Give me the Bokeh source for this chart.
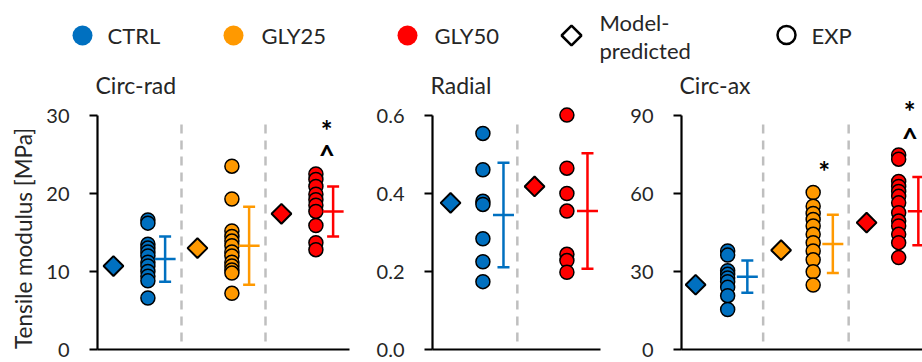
import numpy as np
from bokeh.plotting import figure
from bokeh.layouts import column, row
from bokeh.models import Range1d, FixedTicker, NumeralTickFormatter
from bokeh.core.properties import value
from bokeh.embed import file_html
from bokeh.resources import INLINE

FONT = "Lato"
TXT = "#262626"
COLORS = {"CTRL": "#0070C0", "GLY25": "#FF9900", "GLY50": "#FF0000"}

# ---------------- data ----------------
# Circ-rad
cr_groups = ["CTRL", "GLY25", "GLY50"]
cr_ctrl = [16.6, 16.2, 13.5, 13.0, 12.5, 12.0, 11.2, 10.7, 10.0, 9.4, 8.8, 6.6]
cr_gly25 = [23.5, 19.3, 15.2, 14.5, 13.9, 13.3, 12.5, 12.0, 11.2, 10.7, 10.2, 9.8, 7.2]
cr_gly50 = [22.5, 21.8, 20.9, 19.9, 19.2, 18.5, 17.7, 15.9, 13.7, 12.8]
cr_model = [10.7, 13.0, 17.4]
cr_mean = [11.6, 13.3, 17.7]
cr_sd = [2.9, 5.0, 3.2]
cr_ticks = [0, 10, 20, 30]
cr_sig = [("GLY50", "*", 28.2), ("GLY50", "^", 25.0)]

# Radial
ra_groups = ["CTRL", "GLY50"]
ra_ctrl = [0.554, 0.461, 0.380, 0.372, 0.284, 0.225, 0.174]
ra_gly50 = [0.601, 0.465, 0.400, 0.355, 0.244, 0.228, 0.198]
ra_model = [0.376, 0.418]
ra_mean = [0.345, 0.355]
ra_sd = [0.134, 0.148]
ra_ticks = [0.0, 0.2, 0.4, 0.6]
ra_sig = []

# Circ-ax
ca_groups = ["CTRL", "GLY25", "GLY50"]
ca_ctrl = [37.9, 36.3, 30.3, 28.9, 27.5, 26.1, 23.9, 20.7, 15.4]
ca_gly25 = [60.4, 55.1, 52.3, 50.0, 47.5, 44.3, 41.1, 37.9, 34.5, 29.9, 24.8]
ca_gly50 = [74.8, 73.2, 64.6, 62.7, 60.8, 58.9, 56.4, 52.6, 49.4, 47.5, 44.3, 41.1, 35.4]
ca_model = [24.9, 38.2, 48.8]
ca_mean = [28.0, 40.6, 53.2]
ca_sd = [6.2, 11.2, 13.1]
ca_ticks = [0, 30, 60, 90]
ca_sig = [("GLY25", "*", 68.8), ("GLY50", "*", 91.9), ("GLY50", "^", 81.2)]

legend_labels = ["CTRL", "GLY25", "GLY50", "Model-", "predicted", "EXP"]
y_label = "Tensile modulus [MPa]"

# ---------------- layout constants ----------------
LEG_H = 66
ROW_H = 296
TOP_B = 32
BOT_B = 13
FRAME_H = ROW_H - TOP_B - BOT_B
AXIS_H = 234  # pixels from 0 to top tick


def make_panel(title, groups, exp, model, mean, sd, ticks, sig, width, bl, br,
               x0, x1, offs, fmt=None):
    diam_off, err_off, sep_off = offs
    top = ticks[-1] * FRAME_H / AXIS_H
    p = figure(width=width, height=ROW_H, x_range=Range1d(x0, x1),
               y_range=Range1d(0, top), output_backend="svg",
               toolbar_location=None, min_border_left=bl, min_border_right=br,
               min_border_top=TOP_B, min_border_bottom=BOT_B, title=title)
    p.outline_line_color = None
    p.grid.visible = False

    p.title.text_font = FONT
    p.title.text_font_size = "23px"
    p.title.text_font_style = "normal"
    p.title.text_color = TXT
    p.title.align = "left"
    p.title.standoff = 0
    p.title.offset = -2

    ya = p.yaxis[0]
    ya.ticker = FixedTicker(ticks=ticks)
    ya.bounds = (0, ticks[-1])
    ya.axis_line_width = 2.2
    ya.axis_line_color = "black"
    ya.major_tick_line_width = 2.2
    ya.major_tick_line_color = "black"
    ya.major_tick_out = 8
    ya.major_tick_in = 0
    ya.minor_tick_line_color = None
    ya.major_label_standoff = 20
    ya.major_label_text_font = FONT
    ya.major_label_text_font_size = "20px"
    ya.major_label_text_color = TXT
    if fmt:
        ya.formatter = NumeralTickFormatter(format=fmt)

    xa = p.xaxis[0]
    xa.ticker = FixedTicker(ticks=[])
    xa.axis_line_width = 2.2
    xa.axis_line_color = "black"
    xa.minor_tick_line_color = None
    xa.major_tick_line_color = None

    n = len(groups)
    sx = [i + sep_off for i in range(n - 1)]
    if sx:
        p.segment(x0=sx, x1=sx, y0=[0.034 * ticks[-1]] * len(sx),
                  y1=[0.98 * ticks[-1]] * len(sx), line_color="#BFBFBF",
                  line_width=2.5, line_dash="9 7")

    for i, g in enumerate(groups):
        c = COLORS[g]
        p.scatter(x=[i + diam_off], y=[model[i]], marker="square", angle=np.pi / 4,
                  size=14, fill_color=c, line_color="black", line_width=2)
        vals = exp[i]
        p.scatter(x=[i] * len(vals), y=vals, marker="circle", size=14,
                  fill_color=c, line_color="black", line_width=1.5)
        ex = i + err_off
        lo, hi = mean[i] - sd[i], mean[i] + sd[i]
        p.segment(x0=[ex], x1=[ex], y0=[lo], y1=[hi], line_color=c, line_width=2.5)
        p.scatter(x=[ex, ex], y=[lo, hi], marker="dash", size=12, line_color=c,
                  line_width=2.5)
        p.scatter(x=[ex], y=[mean[i]], marker="dash", size=21, line_color=c,
                  line_width=2.5)

    for g, sym, yv in sig:
        i = groups.index(g)
        p.text(x=[i + 0.13], y=[yv], text=[sym], text_font=value(FONT),
               text_font_size="28px", text_font_style="bold", text_color="black",
               text_align="center", text_baseline="middle")
    return p


p1 = make_panel("Circ-rad", cr_groups, [cr_ctrl, cr_gly25, cr_gly50], cr_model,
                cr_mean, cr_sd, cr_ticks, cr_sig, 334, 61, 21, -0.6, 2.4,
                (-0.41, 0.205, 0.40))
p2 = make_panel("Radial", ra_groups, [ra_ctrl, ra_gly50], ra_model, ra_mean, ra_sd,
                ra_ticks, ra_sig, 255, 62, 25, -0.6, 1.4, (-0.385, 0.245, 0.41),
                fmt="0.0")
p3 = make_panel("Circ-ax", ca_groups, [ca_ctrl, ca_gly25, ca_gly50], ca_model,
                ca_mean, ca_sd, ca_ticks, ca_sig, 297, 56, 0, -0.54, -0.54 + 241 / 85.5,
                (-0.375, 0.23, 0.415))

# ---------------- y-axis title strip ----------------
lab = figure(width=36, height=ROW_H, x_range=Range1d(0, 36), y_range=Range1d(0, ROW_H),
             output_backend="svg", toolbar_location=None, min_border=0,
             x_axis_location=None, y_axis_location=None)
lab.outline_line_color = None
lab.grid.visible = False
lab.text(x=[22.5], y=[ROW_H - (231 - LEG_H)], text=[y_label], angle=np.pi / 2,
         text_font=value(FONT), text_font_size="22.5px", text_color=TXT,
         text_align="center", text_baseline="middle")

# ---------------- legend strip ----------------
leg = figure(width=922, height=LEG_H, x_range=Range1d(0, 922), y_range=Range1d(LEG_H, 0),
             output_backend="svg", toolbar_location=None, min_border=0,
             x_axis_location=None, y_axis_location=None)
leg.outline_line_color = None
leg.grid.visible = False

mk_x = [82, 233, 407, 571, 786]
tx_x = [107, 261, 434, 599, 599, 811]
tx_y = [35, 35, 35, 21.5, 50, 35]
leg.scatter(x=mk_x[:3], y=[35] * 3, marker="circle", size=20,
            fill_color=[COLORS["CTRL"], COLORS["GLY25"], COLORS["GLY50"]],
            line_color=None)
leg.scatter(x=[mk_x[3]], y=[35], marker="square", angle=np.pi / 4, size=14,
            fill_color="white", line_color="black", line_width=2.5)
leg.scatter(x=[mk_x[4]], y=[34.5], marker="circle", size=18,
            fill_color="white", line_color="black", line_width=2.5)
leg.text(x=tx_x, y=tx_y, text=legend_labels, text_font=value(FONT),
         text_font_size="22px", text_color=TXT, text_baseline="middle",
         text_align="left")

layout = column(leg, row(lab, p1, p2, p3, spacing=0), spacing=0)

with open("out.html", "w") as f:
    f.write(file_html(layout, INLINE))
